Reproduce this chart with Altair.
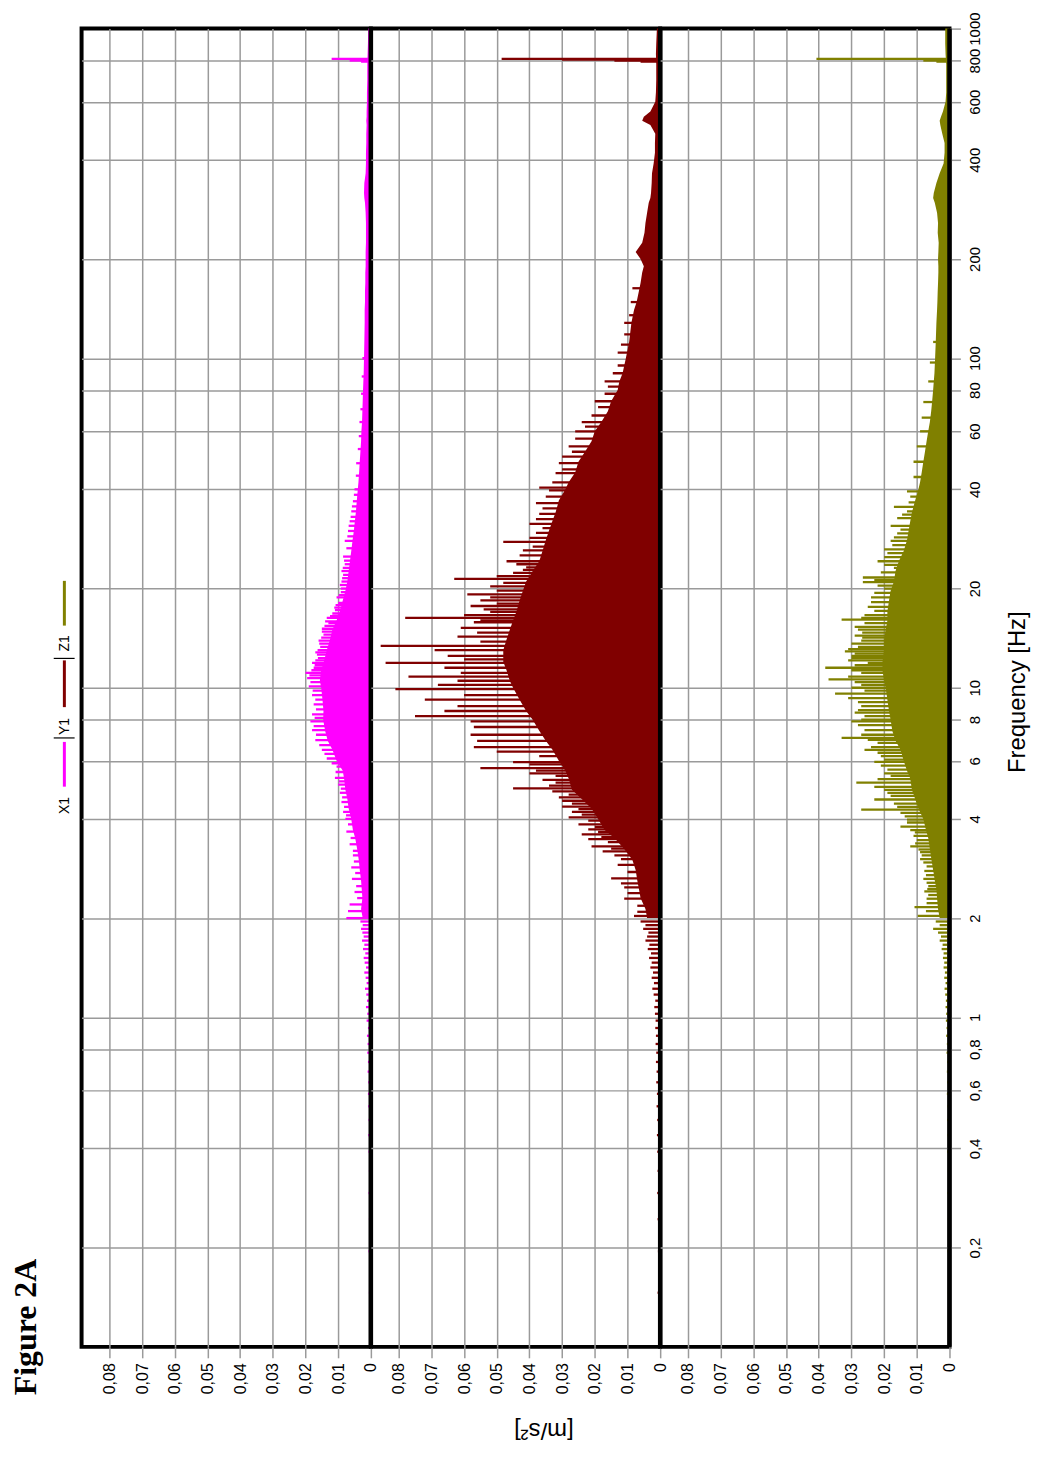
import altair as alt
import pandas as pd

# ---------------- axis tick values ----------------
freq_ticks = [0.2, 0.4, 0.6, 0.8, 1, 2, 4, 6, 8, 10, 20, 40, 60, 80, 100, 200, 400, 600, 800, 1000]
amp_ticks = [0, 0.01, 0.02, 0.03, 0.04, 0.05, 0.06, 0.07, 0.08]

# ---------------- low-frequency discrete lines (Hz) ----------------
low_f = [0.146, 0.195, 0.244, 0.293, 0.342, 0.391, 0.439, 0.488, 0.537, 0.586,
         0.635, 0.684, 0.732, 0.781, 0.830, 0.879, 0.928, 0.977, 1.025, 1.074,
         1.123, 1.172, 1.221, 1.270, 1.318, 1.367, 1.416, 1.465, 1.514, 1.563,
         1.611, 1.660, 1.709, 1.758, 1.807, 1.855, 1.904, 1.953]
x1_low = [0.0006, 0.0007, 0.0006, 0.0007, 0.0006, 0.0007, 0.0008, 0.0007, 0.0008, 0.0009,
          0.0008, 0.0010, 0.0009, 0.0011, 0.0010, 0.0012, 0.0009, 0.0013, 0.0011, 0.0015,
          0.0012, 0.0014, 0.0018, 0.0013, 0.0016, 0.0020, 0.0015, 0.0019, 0.0022, 0.0017,
          0.0024, 0.0020, 0.0027, 0.0022, 0.0026, 0.0030, 0.0025, 0.0032]
y1_low = [0.0008, 0.0007, 0.0008, 0.0009, 0.0008, 0.0009, 0.0010, 0.0009, 0.0011, 0.0010,
          0.0012, 0.0011, 0.0013, 0.0012, 0.0014, 0.0013, 0.0015, 0.0014, 0.0016, 0.0018,
          0.0015, 0.0020, 0.0024, 0.0019, 0.0026, 0.0022, 0.0030, 0.0026, 0.0034, 0.0028,
          0.0038, 0.0033, 0.0045, 0.0040, 0.0036, 0.0052, 0.0045, 0.0060]
z1_low = [0.0005, 0.0006, 0.0005, 0.0006, 0.0005, 0.0007, 0.0006, 0.0007, 0.0006, 0.0008,
          0.0007, 0.0008, 0.0007, 0.0009, 0.0008, 0.0010, 0.0009, 0.0011, 0.0010, 0.0012,
          0.0011, 0.0013, 0.0015, 0.0012, 0.0016, 0.0014, 0.0018, 0.0016, 0.0020, 0.0018,
          0.0024, 0.0021, 0.0030, 0.0026, 0.0035, 0.0050, 0.0030, 0.0042]

# ---------------- dense spectrum body (freq Hz, amplitude m/s2) ----------------
x1_body = [(2.0, 0.0025), (2.13, 0.003), (2.3, 0.0026), (2.45, 0.0028), (2.6, 0.003), (2.8, 0.0034),
           (3.0, 0.0037), (3.24, 0.0042), (3.5, 0.0048), (3.7, 0.0055), (4.0, 0.006), (4.3, 0.0068),
           (4.6, 0.0072), (4.9, 0.0078), (5.3, 0.0082), (5.6, 0.0086), (6.0, 0.0105), (6.5, 0.0118),
           (6.9, 0.0132), (7.4, 0.014), (8.0, 0.0146), (8.5, 0.0145), (9.2, 0.0148), (10.0, 0.0152),
           (10.5, 0.0156), (11.3, 0.0152), (12.0, 0.0144), (13.0, 0.0135), (14.0, 0.0125), (15.0, 0.0118),
           (16, 0.0105), (17, 0.0095), (18.4, 0.0086), (19.7, 0.0078), (21, 0.0072), (22.6, 0.0068),
           (24.2, 0.0064), (26, 0.006), (28, 0.0056), (30, 0.0052), (32, 0.0049), (34, 0.0046),
           (37, 0.0043), (40, 0.004), (42, 0.0038), (45, 0.0036), (48.5, 0.0034), (52, 0.0032),
           (56, 0.003), (60, 0.0029), (64, 0.0027), (69, 0.0026), (74, 0.0025), (80, 0.0024),
           (85, 0.0023), (90, 0.0022), (100, 0.0021), (112, 0.002), (128, 0.0019), (140, 0.0019),
           (148, 0.0018), (160, 0.0018), (169, 0.0017), (182, 0.0017), (190, 0.0016), (200, 0.0016),
           (210, 0.0016), (224, 0.0015), (240, 0.0015), (257, 0.0015), (276, 0.0016), (296, 0.0018),
           (306, 0.002), (317, 0.0021), (340, 0.002), (364, 0.0016), (390, 0.0015), (420, 0.0015),
           (450, 0.0014), (480, 0.0014), (510, 0.0013), (525, 0.0014), (540, 0.0013), (560, 0.0013),
           (600, 0.0012), (640, 0.0012), (700, 0.0011), (780, 0.0011), (838, 0.001), (900, 0.0009),
           (1000, 0.0008)]
y1_body = [(2.0, 0.004), (2.13, 0.0045), (2.3, 0.006), (2.45, 0.0065), (2.6, 0.007), (2.8, 0.0075),
           (3.0, 0.0085), (3.24, 0.011), (3.5, 0.014), (3.7, 0.017), (4.0, 0.019), (4.3, 0.021),
           (4.6, 0.024), (4.9, 0.027), (5.3, 0.028), (5.6, 0.029), (6.0, 0.031), (6.5, 0.033),
           (6.9, 0.035), (7.4, 0.037), (8.0, 0.039), (8.5, 0.041), (9.2, 0.043), (10.0, 0.045),
           (10.5, 0.046), (11.3, 0.047), (12.0, 0.048), (13.0, 0.048), (14.0, 0.047), (15.0, 0.046),
           (16, 0.045), (17, 0.044), (18.4, 0.043), (19.7, 0.042), (21, 0.041), (22.6, 0.039),
           (24.2, 0.037), (26, 0.036), (28, 0.035), (30, 0.034), (32, 0.033), (34, 0.032),
           (37, 0.031), (40, 0.029), (42, 0.028), (45, 0.026), (48.5, 0.025), (52, 0.023),
           (56, 0.021), (60, 0.02), (64, 0.018), (69, 0.016), (74, 0.015), (80, 0.013),
           (85, 0.0125), (90, 0.0115), (100, 0.0105), (112, 0.0095), (128, 0.0088), (140, 0.008),
           (148, 0.0072), (160, 0.0065), (169, 0.006), (182, 0.0055), (190, 0.005), (200, 0.006),
           (210, 0.0075), (224, 0.0055), (240, 0.0048), (257, 0.0045), (276, 0.004), (296, 0.0035),
           (306, 0.003), (317, 0.0028), (340, 0.0026), (364, 0.0025), (390, 0.002), (420, 0.0016),
           (450, 0.0016), (480, 0.0015), (510, 0.003), (525, 0.0055), (540, 0.005), (560, 0.003),
           (600, 0.0015), (640, 0.0013), (700, 0.0012), (780, 0.0012), (838, 0.0013), (900, 0.0012),
           (1000, 0.001)]
z1_body = [(2.0, 0.003), (2.13, 0.0035), (2.3, 0.0038), (2.45, 0.004), (2.6, 0.0045), (2.8, 0.005),
           (3.0, 0.0055), (3.24, 0.006), (3.5, 0.0065), (3.7, 0.0072), (4.0, 0.008), (4.3, 0.0095),
           (4.6, 0.0105), (4.9, 0.0115), (5.3, 0.012), (5.6, 0.013), (6.0, 0.014), (6.5, 0.015),
           (6.9, 0.0165), (7.4, 0.0175), (8.0, 0.018), (8.5, 0.0185), (9.2, 0.019), (10.0, 0.0195),
           (10.5, 0.02), (11.3, 0.0205), (12.0, 0.0205), (13.0, 0.02), (14.0, 0.02), (15.0, 0.0195),
           (16, 0.019), (17, 0.019), (18.4, 0.0185), (19.7, 0.018), (21, 0.017), (22.6, 0.0165),
           (24.2, 0.0155), (26, 0.014), (28, 0.013), (30, 0.0125), (32, 0.012), (34, 0.0115),
           (37, 0.0105), (40, 0.0095), (42, 0.009), (45, 0.0085), (48.5, 0.008), (52, 0.0075),
           (56, 0.007), (60, 0.0065), (64, 0.006), (69, 0.0056), (74, 0.0053), (80, 0.005),
           (85, 0.0048), (90, 0.0046), (100, 0.0044), (112, 0.0042), (128, 0.004), (140, 0.0038),
           (148, 0.0037), (160, 0.0036), (169, 0.0035), (182, 0.0034), (190, 0.0034), (200, 0.0035),
           (210, 0.0034), (224, 0.0033), (240, 0.0036), (257, 0.0035), (276, 0.0038), (296, 0.0045),
           (306, 0.005), (317, 0.0048), (340, 0.004), (364, 0.003), (390, 0.0018), (420, 0.0015),
           (450, 0.0015), (480, 0.0022), (510, 0.0028), (525, 0.003), (540, 0.0026), (560, 0.002),
           (600, 0.0012), (640, 0.001), (700, 0.001), (780, 0.001), (838, 0.0012), (900, 0.0013),
           (1000, 0.0013)]

# ---------------- individual spectral lines that stick out (freq Hz, amplitude) ----------------
x1_spikes = [(809, 0.012), (800, 0.0065), (794, 0.003),
             (100, 0.0026), (88, 0.0028), (78, 0.003), (70, 0.0032), (64, 0.0035), (58, 0.0037),
             (53, 0.004), (48, 0.0045), (44, 0.0046), (40, 0.005),
             (36.8, 0.0055), (34.3, 0.006), (32, 0.0065), (29.9, 0.007), (27.9, 0.008), (26.5, 0.0075),
             (25, 0.0085), (23.7, 0.008), (22.6, 0.009), (21.5, 0.0088), (20.5, 0.0095), (19.5, 0.0092),
             (18.8, 0.0105), (18.1, 0.01), (17.5, 0.0112), (16.8, 0.0118), (16.3, 0.0135), (15.7, 0.013),
             (15.1, 0.015), (14.5, 0.0145), (13.9, 0.016), (13.3, 0.0155), (12.8, 0.017), (12.3, 0.0162),
             (11.9, 0.018), (11.5, 0.0175), (11.1, 0.02), (10.7, 0.0195), (10.4, 0.0185), (10.1, 0.019),
             (9.8, 0.0178), (9.5, 0.018), (9.2, 0.017), (8.9, 0.0175), (8.6, 0.0168), (8.3, 0.018),
             (8.1, 0.0172), (7.9, 0.0185), (7.65, 0.0175), (7.44, 0.018), (7.2, 0.0168), (6.94, 0.017),
             (6.7, 0.0158), (6.48, 0.015), (6.3, 0.0142), (6.1, 0.0135), (5.9, 0.012), (5.76, 0.0105),
             (5.55, 0.0108), (5.33, 0.011), (5.2, 0.0098), (5.08, 0.01), (4.94, 0.0092), (4.8, 0.0095),
             (4.65, 0.0088), (4.5, 0.009), (4.35, 0.0082), (4.2, 0.0085), (4.1, 0.0076), (4.0, 0.0078),
             (3.85, 0.007), (3.66, 0.0075), (3.5, 0.0062), (3.35, 0.0065), (3.2, 0.0055), (3.1, 0.0055),
             (2.97, 0.0052), (2.85, 0.006), (2.74, 0.0048), (2.63, 0.0058), (2.5, 0.0045), (2.4, 0.005),
             (2.3, 0.0042), (2.2, 0.0065), (2.1, 0.007), (2.0, 0.0075)]
x1_hatch = [(38.5, 0.0052), (35.5, 0.0058), (33, 0.0062), (31, 0.0068), (28.8, 0.0072), (24.3, 0.0082),
            (23.1, 0.0086), (22, 0.0085), (21, 0.009), (20, 0.0092), (19.1, 0.0098), (17.8, 0.0108),
            (17.2, 0.011), (16.5, 0.0125), (15.9, 0.014), (15.4, 0.0142), (14.8, 0.015), (14.2, 0.0152),
            (13.6, 0.0158), (13.0, 0.0163), (12.6, 0.0165), (12.1, 0.017), (11.7, 0.0172), (11.3, 0.0182),
            (10.9, 0.0188)]
y1_spikes = [(809, 0.0485), (805, 0.03), (800, 0.014), (794, 0.006),
             (163, 0.0085), (148, 0.009), (128, 0.011), (104, 0.013), (85, 0.017), (74, 0.02),
             (64, 0.024), (60, 0.026), (54, 0.028), (50.3, 0.03), (44.8, 0.032),
             (40.5, 0.037), (39.7, 0.034), (36.3, 0.038), (33.7, 0.037), (31.4, 0.04), (29.5, 0.038),
             (27.7, 0.048), (26.1, 0.042), (24.2, 0.047), (23.2, 0.041), (22.3, 0.045), (21.4, 0.063),
             (20.3, 0.052), (19.2, 0.059), (18.4, 0.055), (17.7, 0.058), (17.0, 0.052), (16.3, 0.078),
             (15.8, 0.057), (15.2, 0.061), (14.7, 0.056), (14.3, 0.062), (13.8, 0.055), (13.4, 0.0855),
             (13.0, 0.069), (12.5, 0.065), (12.2, 0.06), (11.9, 0.084), (11.5, 0.066), (11.1, 0.061),
             (10.8, 0.077), (10.5, 0.062), (10.2, 0.068), (9.9, 0.081), (9.5, 0.06), (9.2, 0.072),
             (8.8, 0.062), (8.5, 0.066), (8.2, 0.075), (7.9, 0.058), (7.6, 0.057), (7.2, 0.058),
             (6.9, 0.056), (6.6, 0.057), (6.4, 0.05), (6.2, 0.037), (5.95, 0.045), (5.7, 0.055),
             (5.5, 0.04), (5.4, 0.032), (5.15, 0.032), (4.95, 0.045), (4.74, 0.028), (4.54, 0.03),
             (4.36, 0.03), (4.2, 0.027), (4.04, 0.028), (3.85, 0.025), (3.72, 0.022), (3.59, 0.024),
             (3.47, 0.022), (3.3, 0.021), (3.19, 0.0176), (3.1, 0.014), (3.02, 0.012), (2.9, 0.013),
             (2.76, 0.01), (2.64, 0.015), (2.55, 0.012), (2.48, 0.011), (2.38, 0.01), (2.29, 0.011),
             (2.18, 0.007), (2.09, 0.007), (2.03, 0.008)]
y1_hatch = [(135, 0.0095), (118, 0.011), (110, 0.012), (95, 0.013), (90, 0.0145), (82, 0.016),
            (78, 0.017), (71, 0.019), (67, 0.021), (62, 0.023), (57, 0.026), (52, 0.027),
            (48, 0.031), (46, 0.03), (42, 0.033), (38, 0.035), (35, 0.036), (32.5, 0.038),
            (30.5, 0.036), (28.5, 0.04), (26.8, 0.039), (25.2, 0.043), (23.7, 0.044), (22.8, 0.042),
            (21.8, 0.05), (20.8, 0.048), (19.7, 0.05), (18.8, 0.052), (18, 0.05), (17.3, 0.054),
            (16.6, 0.06), (16, 0.055), (5.85, 0.04), (5.6, 0.038), (5.25, 0.036), (5.05, 0.034),
            (4.85, 0.033), (4.65, 0.031), (4.45, 0.027), (4.28, 0.025), (4.12, 0.024), (3.95, 0.022),
            (3.78, 0.02), (3.65, 0.019), (3.52, 0.018), (3.4, 0.016), (3.25, 0.015)]
z1_spikes = [(809, 0.0407), (800, 0.008), (794, 0.004),
             (112, 0.005), (97, 0.006), (85, 0.0065), (73.6, 0.008), (66, 0.0085), (60, 0.009),
             (54, 0.01), (48.5, 0.011), (43.6, 0.011), (39.4, 0.013),
             (35.4, 0.017), (34.3, 0.013), (32.7, 0.016), (31, 0.018), (29.4, 0.016), (27.9, 0.018),
             (26.3, 0.02), (24.9, 0.02), (23.1, 0.017), (21.6, 0.0265), (20.9, 0.0265), (20, 0.02),
             (18.8, 0.024), (17.6, 0.025), (16.6, 0.026), (16.1, 0.033), (15.3, 0.029), (14.7, 0.0267),
             (14.2, 0.0267), (13.6, 0.03), (13.1, 0.031), (12.7, 0.029), (12.3, 0.03), (11.9, 0.025),
             (11.5, 0.038), (11.1, 0.027), (10.6, 0.037), (10.2, 0.027), (9.8, 0.026), (9.6, 0.035),
             (9.05, 0.028), (8.55, 0.028), (8.2, 0.026), (7.9, 0.03), (7.44, 0.026), (7.04, 0.033),
             (6.8, 0.022), (6.48, 0.026), (6.2, 0.021), (5.96, 0.023), (5.64, 0.019), (5.4, 0.018),
             (5.15, 0.0285), (5.0, 0.023), (4.8, 0.019), (4.58, 0.023), (4.45, 0.017), (4.27, 0.027),
             (4.07, 0.0137), (3.9, 0.013), (3.79, 0.015), (3.64, 0.0106), (3.45, 0.01), (3.3, 0.012),
             (3.17, 0.009), (3.02, 0.009), (2.87, 0.007), (2.78, 0.0077), (2.63, 0.008), (2.5, 0.0065),
             (2.41, 0.0077), (2.29, 0.007), (2.16, 0.0107), (2.03, 0.0097)]
z1_hatch = [(38, 0.012), (36.5, 0.0125), (33.5, 0.0145), (30.2, 0.015), (28.6, 0.017), (27.1, 0.0175),
            (25.6, 0.019), (24.2, 0.022), (23.6, 0.02), (22.4, 0.021), (21.2, 0.023), (20.4, 0.022),
            (19.4, 0.023), (18.2, 0.024), (17.1, 0.023), (16.3, 0.027), (15.7, 0.026), (15, 0.028),
            (14.4, 0.029), (13.9, 0.027), (13.3, 0.028), (12.9, 0.032), (12.5, 0.03), (12.1, 0.031),
            (11.7, 0.029), (11.3, 0.03), (10.8, 0.031), (10.4, 0.029), (10.0, 0.03), (9.3, 0.031),
            (8.8, 0.027), (8.4, 0.029), (8.0, 0.027), (7.7, 0.028), (7.2, 0.027), (6.95, 0.025),
            (6.6, 0.024), (6.35, 0.022), (6.05, 0.02), (5.8, 0.021), (5.5, 0.02), (5.28, 0.022),
            (4.9, 0.02), (4.7, 0.018), (4.35, 0.016), (4.17, 0.015), (3.98, 0.013), (3.7, 0.012),
            (3.55, 0.011), (3.37, 0.0105), (3.23, 0.0095), (3.1, 0.0085), (2.95, 0.008), (2.7, 0.0072),
            (2.56, 0.007), (2.45, 0.0068), (2.35, 0.0065), (2.22, 0.007), (2.1, 0.0072)]

series_names = ["X1", "Y1", "Z1"]
series_colors = ["#ff00ff", "#800000", "#808000"]

PANEL_W = 291
PANEL_H = 1326
GRID = "#9a9a9a"
FONT = "Liberation Sans"

dummy = pd.DataFrame({"k": [0]})

y_scale = alt.Scale(type="log", domain=[0.1, 1000], nice=False)
x_scale = alt.Scale(domain=[0, 0.0885], reverse=True, nice=False)

x_axis = alt.Axis(
    values=amp_ticks,
    labelExpr="datum.value == 0 ? '0' : replace(format(datum.value, '.2f'), '.', ',')",
    labelAngle=270, labelAlign="right", labelBaseline="middle",
    labelFlush=False, labelOverlap=False, labelPadding=5, labelFontSize=16,
    tickSize=11, tickColor=GRID, tickWidth=1.5,
    domain=False, grid=True, gridWidth=1.5,
    gridColor={"condition": {"test": "datum.value == 0", "value": "transparent"}, "value": GRID},
    title=None,
)

y_grid_color = {"condition": {"test": "datum.value == 1000", "value": "transparent"}, "value": GRID}

y_axis_plain = alt.Axis(values=freq_ticks, labels=False, ticks=False, domain=False,
                        grid=True, gridWidth=1.5, gridColor=y_grid_color, title=None)

y_axis_right = alt.Axis(
    orient="right", values=freq_ticks,
    labelExpr="replace(toString(datum.value), '.', ',')",
    labelAngle=270, labelAlign="center", labelBaseline="top",
    labelOverlap=False, labelFlush=False, labelPadding=7, labelFontSize=15,
    tickSize=11, tickColor=GRID, tickWidth=1.5,
    domain=False, grid=True, gridWidth=1.5, gridColor=y_grid_color,
    title="Frequency [Hz]", titleAngle=270, titleX=68, titleY=667,
    titleAlign="center", titleBaseline="middle",
    titleFont=FONT, titleFontSize=24, titleFontWeight="normal", titleColor="black",
)


def make_panel(color, body, low_a, spikes, hatch, y_axis, extra=None):
    body_df = pd.DataFrame(body, columns=["f", "a"])
    lines_df = pd.DataFrame(list(zip(low_f, low_a)) + spikes + hatch, columns=["f", "a"])

    area = alt.Chart(body_df).mark_area(orient="horizontal", color=color, opacity=1).encode(
        y=alt.Y("f:Q", scale=y_scale, axis=y_axis),
        x=alt.X("a:Q", scale=x_scale, axis=x_axis),
    )
    rules = alt.Chart(lines_df).mark_rule(color=color, strokeWidth=2.3).encode(
        y=alt.Y("f:Q", scale=y_scale, axis=y_axis),
        x=alt.X("a:Q", scale=x_scale, axis=x_axis),
        x2=alt.datum(0),
    )
    # thick black zero line = right frame edge of the panel
    zero = alt.Chart(dummy).mark_rule(color="black", strokeWidth=4.5).encode(
        x=alt.value(PANEL_W), y=alt.value(0), y2=alt.value(PANEL_H),
    )
    layers = [area, rules, zero]
    if extra is not None:
        layers.append(extra)
    return alt.layer(*layers).properties(width=PANEL_W, height=PANEL_H)


unit_text = alt.Chart(dummy).mark_text(
    text="[m/s²]", angle=180, font=FONT, fontSize=24, color="black",
    align="center", baseline="middle",
).encode(x=alt.value(174), y=alt.value(1410))

p1 = make_panel(series_colors[0], x1_body, x1_low, x1_spikes, x1_hatch, y_axis_plain)
p2 = make_panel(series_colors[1], y1_body, y1_low, y1_spikes, y1_hatch, y_axis_plain, extra=unit_text)
p3 = make_panel(series_colors[2], z1_body, z1_low, z1_spikes, z1_hatch, y_axis_right)

# ---------------- left column: figure title + rotated legend ----------------
title_mark = alt.Chart(dummy).mark_text(
    text="Figure 2A", angle=270, font="Liberation Serif", fontSize=32, fontWeight="bold",
    color="black", align="center", baseline="middle",
).encode(x=alt.value(16), y=alt.value(1306))

legend_layers = [title_mark]
legend_text_y = [781.5, 702, 618.5]
legend_line_y = [(717.5, 762.5), (635.5, 682.5), (555.5, 600.5)]
for name, col, ty, (ly1, ly2) in zip(series_names, series_colors, legend_text_y, legend_line_y):
    legend_layers.append(
        alt.Chart(dummy).mark_text(text=name, angle=270, font=FONT, fontSize=14, color="black",
                                   align="center", baseline="middle")
        .encode(x=alt.value(55), y=alt.value(ty))
    )
    legend_layers.append(
        alt.Chart(dummy).mark_rule(color=col, strokeWidth=3)
        .encode(x=alt.value(54.7), y=alt.value(ly1), y2=alt.value(ly2))
    )
for sy in [713.5, 633.5]:
    legend_layers.append(
        alt.Chart(dummy).mark_rule(color="black", strokeWidth=1.2)
        .encode(x=alt.value(44), x2=alt.value(65), y=alt.value(sy))
    )

left = alt.layer(*legend_layers).properties(
    width=72, height=PANEL_H, view=alt.ViewBackground(stroke="transparent")
)

chart = alt.hconcat(left, p1, p2, p3, spacing=0, bounds="flush").properties(
    padding={"left": 0, "top": -2.5, "right": 0, "bottom": 0}
).configure_view(
    stroke="black", strokeWidth=4
).configure_axis(
    labelFont=FONT, labelFontSize=15, labelColor="black",
)

chart.save("out.html", embed_options={"renderer": "svg", "actions": False})
